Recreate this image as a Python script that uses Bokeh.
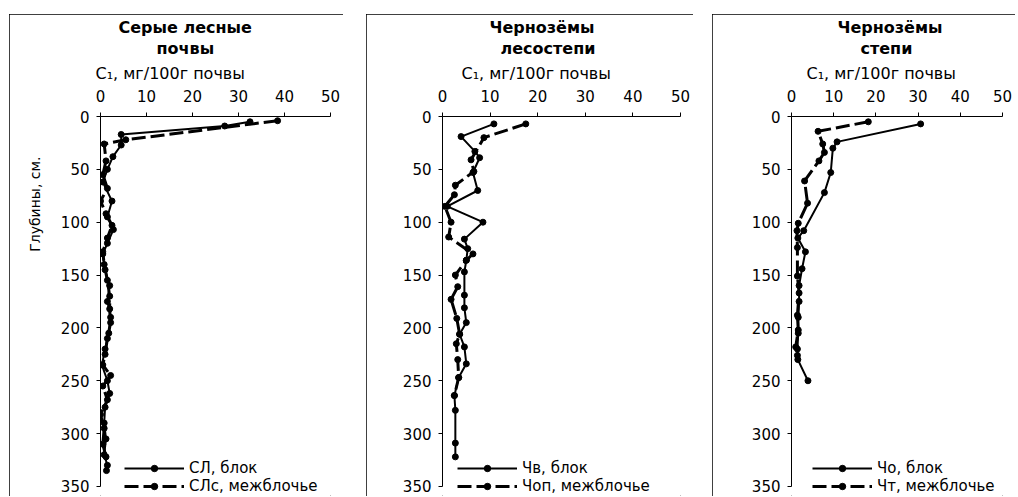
from bokeh.plotting import figure
from bokeh.models import Range1d, FixedTicker, Legend, LegendItem, Spacer, Title
from bokeh.layouts import row, column
from bokeh.embed import file_html
from bokeh.resources import INLINE

X_TICKS = [0, 10, 20, 30, 40, 50]
Y_TICKS = [0, 50, 100, 150, 200, 250, 300, 350]
X_LABEL = "C₁, мг/100г почвы"
Y_LABEL = "Глубины, см."

# Panel 1: Серые лесные почвы
sl_block_depth = [5, 9, 17, 27, 38, 50, 62, 80, 95, 107, 120, 130, 145, 160, 175, 190, 205, 220, 235, 250, 262, 275, 290, 305, 320, 330]
sl_block_c = [32.5, 27.0, 4.5, 4.5, 2.7, 1.5, 0.5, 2.5, 1.5, 2.8, 1.5, 0.5, 1.0, 2.0, 1.5, 2.2, 1.8, 1.0, 0.3, 1.5, 2.0, 1.0, 0.8, 1.2, 0.8, 1.5]
sls_inter_depth = [4, 22, 26, 42, 55, 68, 80, 92, 103, 115, 128, 140, 155, 170, 182, 195, 210, 225, 235, 245, 255, 268, 282, 295, 310, 322, 335]
sls_inter_c = [38.5, 5.5, 0.8, 1.2, 0.5, 1.5, 0.0, 1.2, 2.5, 1.5, 0.5, 0.8, 1.5, 2.0, 2.0, 2.2, 1.5, 1.0, 0.5, 2.2, 0.5, 1.5, 0.0, 0.8, 0.5, 1.2, 1.3]

# Panel 2: Чернозёмы лесостепи
chv_block_depth = [7, 19, 33, 39, 53, 70, 85, 100, 116, 125, 136, 147, 169, 181, 195, 206, 218, 234, 247, 264, 278, 309, 322]
chv_block_c = [10.8, 3.9, 6.8, 7.8, 6.4, 7.4, 1.0, 8.5, 4.6, 5.3, 5.0, 4.6, 4.6, 4.6, 5.0, 3.6, 4.6, 5.0, 3.4, 2.5, 2.7, 2.7, 2.7]
chop_inter_depth = [7, 20, 41, 52, 65, 74, 85, 100, 114, 130, 136, 150, 161, 173, 191, 206, 215, 230, 247, 264]
chop_inter_c = [17.5, 8.7, 6.0, 6.6, 2.7, 2.5, 0.5, 1.8, 1.3, 6.4, 5.0, 2.7, 3.2, 1.8, 3.0, 3.6, 2.9, 3.2, 3.4, 2.5]

# Panel 3: Чернозёмы степи
cho_block_depth = [7, 24, 30, 53, 72, 108, 115, 128, 144, 160, 175, 190, 205, 220, 230, 250]
cho_block_c = [30.6, 10.8, 9.8, 9.3, 7.8, 2.9, 1.5, 3.3, 2.5, 1.8, 1.8, 1.6, 1.6, 1.4, 1.5, 3.9]
cht_inter_depth = [5, 14, 26, 34, 42, 61, 82, 101, 108, 124, 151, 167, 188, 202, 218, 226]
cht_inter_c = [18.2, 6.3, 7.4, 7.8, 6.5, 3.1, 3.8, 1.6, 1.3, 1.4, 1.4, 1.8, 1.4, 1.6, 1.0, 1.4]

FONT = "DejaVu Sans"


def make_panel(title_lines, title_offsets, sub_offset, series, width, left, legend_x, ylabel=None):
    p = figure(width=width, height=482,
               x_range=Range1d(0, 50), y_range=Range1d(359.5, 0),
               x_axis_location="above", y_axis_location="left",
               output_backend="svg", toolbar_location=None,
               min_border_left=left, min_border_right=13,
               min_border_top=102, min_border_bottom=0,
               styles={"outline": "1px solid black", "outline-offset": "-1px"})
    p.outline_line_color = None
    p.grid.visible = False
    p.background_fill_color = "white"
    p.border_fill_color = "white"

    p.xaxis.ticker = FixedTicker(ticks=X_TICKS)
    p.yaxis.ticker = FixedTicker(ticks=Y_TICKS)
    p.yaxis.bounds = (Y_TICKS[0], Y_TICKS[-1])
    for ax in (p.xaxis, p.yaxis):
        ax.major_label_text_font = FONT
        ax.major_label_text_font_size = "15px"
        ax.major_label_text_color = "black"
        ax.axis_line_color = "black"
        ax.axis_line_width = 1
        ax.major_tick_line_color = "black"
        ax.major_tick_in = 0
        ax.major_tick_out = 4
        ax.minor_tick_line_color = None
    p.xaxis.major_label_standoff = 11
    p.yaxis.major_label_standoff = 7

    # texts above the axis, added nearest-first
    p.add_layout(Title(text=X_LABEL, align="left", offset=sub_offset,
                       text_font=FONT, text_font_size="16px", text_font_style="normal",
                       text_color="black", standoff=8), "above")
    for line, off in reversed(list(zip(title_lines, title_offsets))):
        p.add_layout(Title(text=line, align="left", offset=off,
                           text_font=FONT, text_font_size="16px", text_font_style="bold",
                           text_color="black", standoff=0), "above")

    if ylabel:
        p.add_layout(Title(text=ylabel, align="right", offset=40, standoff=30,
                           text_font=FONT, text_font_size="14px",
                           text_font_style="normal", text_color="black"), "left")

    items = []
    for (xs, ys, label, dash, lw) in series:
        lr = p.line(xs, ys, line_color="black", line_width=lw, line_dash=dash)
        sr = p.scatter(xs, ys, marker="circle", size=6, fill_color="black", line_color="black")
        items.append(LegendItem(label=label, renderers=[lr, sr]))

    legend = Legend(items=items, location=(legend_x, 1), orientation="vertical",
                    padding=0, margin=0, spacing=0,
                    glyph_width=60, glyph_height=16, label_height=16,
                    label_standoff=5,
                    label_text_font=FONT, label_text_font_size="15px",
                    label_text_color="black",
                    border_line_color=None, background_fill_alpha=0)
    p.add_layout(legend, "center")
    return p


p1 = make_panel(["Серые лесные", "почвы"], [18, 56], -5,
                [(sl_block_c, sl_block_depth, "СЛ, блок", "solid", 2),
                 (sls_inter_c, sls_inter_depth, "СЛс, межблочье", "14 5", 3)],
                334, 89, 24, ylabel=Y_LABEL)
p2 = make_panel(["Чернозёмы", "лесостепи"], [47, 58], 19,
                [(chv_block_c, chv_block_depth, "Чв, блок", "solid", 2),
                 (chop_inter_c, chop_inter_depth, "Чоп, межблочье", "14 5", 3)],
                327, 76, 15)
p3 = make_panel(["Чернозёмы", "степи"], [46, 69], 15,
                [(cho_block_c, cho_block_depth, "Чо, блок", "solid", 2),
                 (cht_inter_c, cht_inter_depth, "Чт, межблочье", "14 5", 3)],
                303, 79, 21)

layout = column(Spacer(height=14),
                row(Spacer(width=9), p1, Spacer(width=23), p2, Spacer(width=19), p3))

open("out.html", "w").write(file_html(layout, INLINE))
